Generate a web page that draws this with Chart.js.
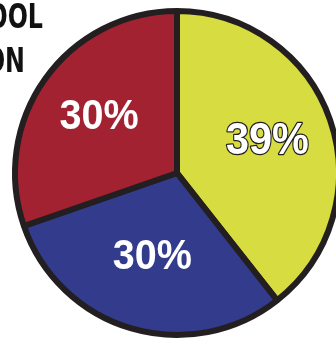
<!DOCTYPE html>
<html>
<head>
<meta charset="utf-8">
<script src="https://cdn.jsdelivr.net/npm/chart.js@4"></script>
<style>
  html, body { margin: 0; padding: 0; background: #ffffff; overflow: hidden; }
  #wrap { position: relative; width: 345px; height: 339px; }
</style>
</head>
<body>
<div id="wrap"><canvas id="graficoPie"></canvas></div>
<script>
// Datos del gráfico
const categorias = ["Amarillo", "Azul", "Rojo"];
const valores = [39, 30, 30];
const etiquetas = ["39%", "30%", "30%"];
const colores = ["#d7dc40", "#323b8c", "#a32232"];
const titulo = ["SCHOOL", "LOCATION"];

const borde = "#231f20";

// Título en la esquina superior izquierda (condensado, alineado a la derecha)
const tituloPlugin = {
  id: "tituloEsquina",
  afterDraw: function (chart) {
    const ctx = chart.ctx;
    ctx.save();
    ctx.fillStyle = "#111111";
    ctx.textAlign = "right";
    ctx.textBaseline = "alphabetic";
    ctx.font = "bold 33px 'Liberation Sans Narrow', 'DejaVu Sans Condensed', sans-serif";
    const finales = [43, 25];
    const bases = [28, 72];
    titulo.forEach(function (t, i) {
      ctx.save();
      ctx.translate(finales[i], bases[i]);
      ctx.scale(0.8, 1);
      ctx.fillText(t, 0, 0);
      ctx.restore();
    });
    ctx.restore();
  },
};

// Porcentajes dentro de cada porción (distancia relativa al radio por porción)
const etiquetasPlugin = {
  id: "etiquetasPorcion",
  afterDatasetsDraw: function (chart, args, opts) {
    const ctx = chart.ctx;
    const meta = chart.getDatasetMeta(0);
    ctx.save();
    ctx.textAlign = "center";
    ctx.textBaseline = "middle";
    meta.data.forEach(function (arc, i) {
      const p = arc.getProps(["x", "y", "startAngle", "endAngle", "outerRadius"], true);
      const medio = (p.startAngle + p.endAngle) / 2;
      const r = p.outerRadius * opts.distancia[i];
      const px = p.x + Math.cos(medio) * r;
      const py = p.y + Math.sin(medio) * r;
      ctx.save();
      ctx.translate(px, py);
      ctx.scale(0.92, 1);
      if (i === 0) {
        ctx.font = "bold 45px 'Liberation Sans', Arial, sans-serif";
        ctx.lineWidth = 2.5;
        ctx.lineJoin = "round";
        ctx.strokeStyle = borde;
        ctx.strokeText(etiquetas[i], 0, 0);
      } else {
        ctx.font = "bold 43px 'Liberation Sans', Arial, sans-serif";
      }
      ctx.fillStyle = "#ffffff";
      ctx.fillText(etiquetas[i], 0, 0);
      ctx.restore();
    });
    ctx.restore();
  },
};

new Chart(document.getElementById("graficoPie"), {
  type: "pie",
  data: {
    labels: categorias,
    datasets: [
      {
        data: valores,
        backgroundColor: colores,
        borderColor: borde,
        borderWidth: 6,
      },
    ],
  },
  options: {
    responsive: true,
    maintainAspectRatio: false,
    animation: false,
    layout: { padding: { left: 12, top: 8, right: 3, bottom: 1 } },
    plugins: {
      legend: { display: false },
      tooltip: { enabled: false },
      etiquetasPorcion: { distancia: [0.59, 0.54, 0.59] },
    },
  },
  plugins: [etiquetasPlugin, tituloPlugin],
});
</script>
</body>
</html>
